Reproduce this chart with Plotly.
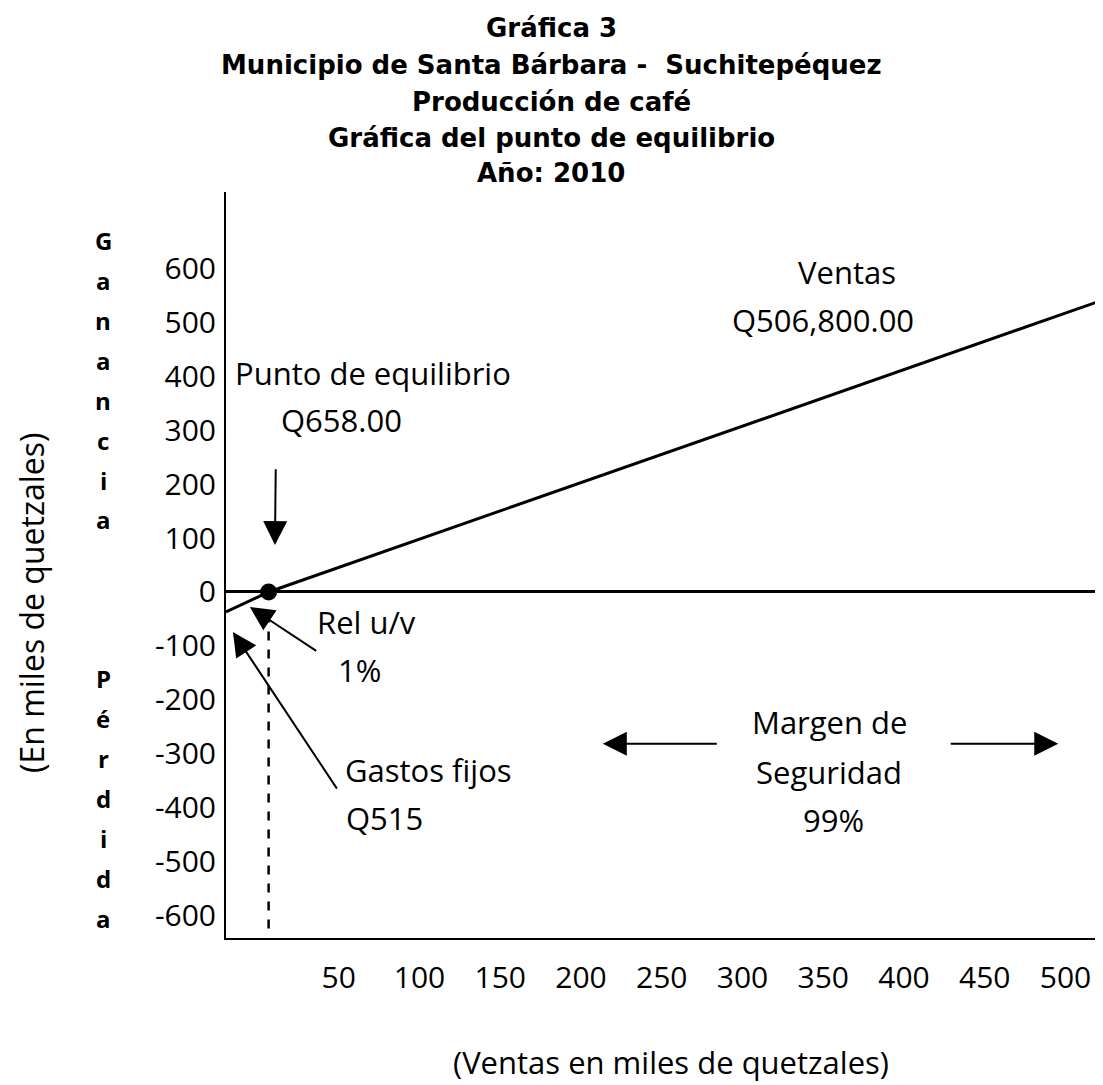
import plotly.graph_objects as go

# ---------------- data (miles de quetzales) ----------------
ventas_x = [-19.8, 6.58, 523.2]
ventas_y = [-37, 0, 541]
equilibrio_x = [6.58]
equilibrio_y = [0]
guia_y = [-40, -630]

x_tickvals = [50, 100, 150, 200, 250, 300, 350, 400, 450, 500]
x_ticktext = ["50", "100", "150", "200", "250", "300", "350", "400", "450", "500"]
y_tickvals = [600, 500, 400, 300, 200, 100, 0, -100, -200, -300, -400, -500, -600]
y_ticktext = ["600", "500", "400", "300", "200", "100", "0", "-100", "-200", "-300", "-400", "-500", "-600"]

titulo = ["Gráfica 3",
          "Municipio de Santa Bárbara -  Suchitepéquez",
          "Producción de café",
          "Gráfica del punto de equilibrio",
          "Año: 2010"]

# ---------------- layout geometry (screen pixels; page body has an 8px margin) ----------------
OFF = 8
SW, SH = 1103, 1085                 # screen size
PL, PR, PT, PB = 226, 1103, 192, 938  # plot area on screen
W, H = SW - OFF, SH - OFF
L, T = PL - OFF, PT - OFF
R = SW - PR
B = SH - PB
PW, PH = PR - PL, PB - PT
X_RANGE = [-19.8, 523.2]
Y_RANGE = [-641, 741]

def xp(px):  # screen pixel -> paper x
    return (px - PL) / PW

def yp(py):  # screen pixel -> paper y
    return (PB - py) / PH

FONT = "Open Sans, Noto Sans, DejaVu Sans, sans-serif"
BLACK = "#000000"

fig = go.Figure()

fig.add_trace(go.Scatter(x=ventas_x, y=ventas_y, mode="lines",
                         line=dict(color=BLACK, width=3), showlegend=False, hoverinfo="skip"))
fig.add_trace(go.Scatter(x=[equilibrio_x[0], equilibrio_x[0]], y=guia_y, mode="lines",
                         line=dict(color=BLACK, width=2.5, dash="dash"), showlegend=False, hoverinfo="skip"))
fig.add_trace(go.Scatter(x=equilibrio_x, y=equilibrio_y, mode="markers",
                         marker=dict(color=BLACK, size=17, symbol="circle"), showlegend=False, hoverinfo="skip"))

ann = []
for line, py in zip(titulo, [28, 65, 102, 138, 173]):
    ann.append(dict(text=f"<b>{line}</b>", xref="paper", yref="paper", x=xp(551), y=yp(py),
                    xanchor="center", yanchor="middle", showarrow=False,
                    font=dict(family="DejaVu Sans, Liberation Sans, sans-serif", size=26, color=BLACK)))

def txt(t, x, y, xa="center", size=31):
    ann.append(dict(text=t, x=x, y=y, xref="x", yref="y", xanchor=xa, yanchor="middle",
                    showarrow=False, font=dict(family=FONT, size=size, color=BLACK)))

txt("Punto de equilibrio", -15.5, 405, xa="left")
txt("Q658.00", 52, 318)
txt("Ventas", 365, 592)
txt("Q506,800.00", 350, 504)
txt("Rel u/v", 35, -56, xa="left")
txt("1%", 63, -144)
txt("Gastos fijos", 52.5, -330, xa="left")
txt("Q515", 78.5, -418)
txt("Margen de", 354, -241)
txt("Seguridad", 353.5, -333)
txt("99%", 356.5, -422)

def arrow(x_tip, y_tip, x_tail, y_tail):
    ann.append(dict(text="", x=x_tip, y=y_tip, ax=x_tail, ay=y_tail, xref="x", yref="y",
                    axref="x", ayref="y", showarrow=True, arrowhead=2, arrowsize=2.4,
                    arrowwidth=2, arrowcolor=BLACK, standoff=0, startstandoff=0))

arrow(10.5, 87, 11, 230)          # punto de equilibrio
arrow(-5, -28, 37, -111)          # Rel u/v
arrow(-15.5, -74, 49.5, -367)     # gastos fijos
arrow(213.5, -281, 285, -281)     # margen izquierda
arrow(495.5, -281, 428, -281)     # margen derecha

for i, ch in enumerate("Ganancia"):
    ann.append(dict(text=f"<b>{ch}</b>", xref="paper", yref="paper", x=xp(103), y=yp(240 + 40 * i),
                    xanchor="center", yanchor="middle", showarrow=False,
                    font=dict(family=FONT, size=24, color=BLACK)))
for i, ch in enumerate("Pérdida"):
    ann.append(dict(text=f"<b>{ch}</b>", xref="paper", yref="paper", x=xp(103), y=yp(678 + 40 * i),
                    xanchor="center", yanchor="middle", showarrow=False,
                    font=dict(family=FONT, size=24, color=BLACK)))

ann.append(dict(text="(En miles de quetzales)", xref="paper", yref="paper", x=xp(31), y=yp(603),
                xanchor="center", yanchor="middle", textangle=-90, showarrow=False,
                font=dict(family=FONT, size=32, color=BLACK)))
ann.append(dict(text="(Ventas en miles de quetzales)", xref="paper", yref="paper", x=xp(671), y=yp(1062),
                xanchor="center", yanchor="middle", showarrow=False,
                font=dict(family=FONT, size=31, color=BLACK)))

fig.update_layout(
    width=W, height=H,
    margin=dict(l=L, r=R, t=T, b=B),
    paper_bgcolor="white", plot_bgcolor="white",
    annotations=ann,
    showlegend=False,
    font=dict(family=FONT, color=BLACK),
)
fig.update_xaxes(range=X_RANGE, showgrid=False, zeroline=False, showline=True,
                 linecolor=BLACK, linewidth=2, tickmode="array", tickvals=x_tickvals,
                 ticktext=x_ticktext, ticks="", ticklabelstandoff=12,
                 tickfont=dict(family=FONT, size=30, color=BLACK), fixedrange=True)
fig.update_yaxes(range=Y_RANGE, showgrid=False, zeroline=True, zerolinecolor=BLACK,
                 zerolinewidth=3, showline=True, linecolor=BLACK, linewidth=2,
                 tickmode="array", tickvals=y_tickvals, ticktext=y_ticktext, ticks="",
                 ticklabelstandoff=2,
                 tickfont=dict(family=FONT, size=30, color=BLACK), fixedrange=True)

fig.write_html("out.html")
